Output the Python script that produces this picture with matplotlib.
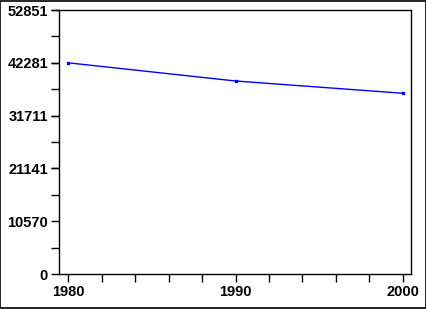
import matplotlib
matplotlib.use("Agg")
import matplotlib.pyplot as plt
from matplotlib.patches import Rectangle
from matplotlib.ticker import MultipleLocator

plt.rcParams["font.family"] = ["Liberation Sans", "DejaVu Sans"]

# data
years = [1980, 1990, 2000]
values = [42281, 38640, 36180]
y_ticks = [0, 10570, 21141, 31711, 42281, 52851]

fig = plt.figure(figsize=(4.27, 3.09), dpi=100)
ax = fig.add_axes([59 / 427, 1 - 274 / 309, 352 / 427, 264 / 309])

ax.plot(years, values, color="blue", linewidth=1, marker="s", markersize=2)

ax.set_xlim(1979.46, 2000.48)
ax.set_ylim(0, y_ticks[-1])
ax.set_xticks(years)
ax.xaxis.set_minor_locator(MultipleLocator(2))
ax.set_yticks(y_ticks)
ax.set_yticklabels([str(v) for v in y_ticks])
ax.yaxis.set_minor_locator(MultipleLocator(y_ticks[1] / 2))

ax.tick_params(which="both", direction="out", length=6, width=1, color="black",
               labelsize=10.5)
ax.tick_params(axis="x", pad=2)
ax.tick_params(axis="y", pad=2)
for lab in ax.get_xticklabels() + ax.get_yticklabels():
    lab.set_fontweight("bold")
for s in ax.spines.values():
    s.set_linewidth(1)

# outer frame round the picture
fig.patches.append(Rectangle((0.001, 0.002), 0.997, 0.996, transform=fig.transFigure,
                             fill=False, edgecolor="black", linewidth=1.2))

fig.savefig("out.png", dpi=100)
